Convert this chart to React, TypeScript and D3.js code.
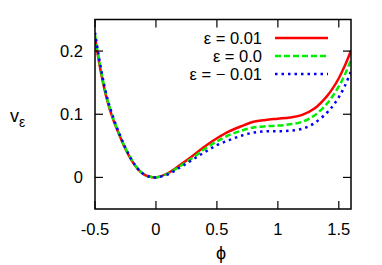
import React from "react";
import * as d3 from "d3";

const phi = [-0.5, -0.45, -0.4, -0.35, -0.3, -0.25, -0.2, -0.15, -0.1, -0.05, 0, 0.1, 0.2, 0.3, 0.4, 0.5, 0.6, 0.7, 0.8, 0.9, 1.0, 1.1, 1.2, 1.3, 1.4, 1.45, 1.5, 1.55, 1.6];
const vPlus = [0.221, 0.165, 0.122, 0.091, 0.067, 0.045, 0.027, 0.0135, 0.0048, 0.001, 0, 0.007, 0.020, 0.034, 0.049, 0.062, 0.073, 0.081, 0.088, 0.091, 0.093, 0.095, 0.099, 0.109, 0.128, 0.141, 0.157, 0.177, 0.201];
const vZero = [0.225, 0.168, 0.124, 0.093, 0.068, 0.046, 0.028, 0.014, 0.005, 0.001, 0, 0.006, 0.018, 0.031, 0.045, 0.057, 0.067, 0.074, 0.079, 0.081, 0.082, 0.084, 0.088, 0.098, 0.116, 0.129, 0.144, 0.163, 0.186];
const vMinus = [0.229, 0.171, 0.126, 0.095, 0.069, 0.047, 0.028, 0.014, 0.005, 0.001, 0, 0.005, 0.016, 0.028, 0.040, 0.051, 0.059, 0.066, 0.071, 0.073, 0.073, 0.074, 0.077, 0.086, 0.102, 0.113, 0.127, 0.145, 0.168];

const seriesLabels = ["ε = 0.01", "ε = 0.0", "ε = − 0.01"];
const xTicks = [-0.5, 0, 0.5, 1, 1.5];
const xTickLabels = ["-0.5", "0", "0.5", "1", "1.5"];
const yTicks = [0, 0.1, 0.2];
const yTickLabels = ["0", "0.1", "0.2"];

const W = 382, H = 265;
const L = 95, R = 351, T = 19.5, B = 209;
const FONT = "'Liberation Sans', Arial, sans-serif";

export default function App() {
  const x = d3.scaleLinear().domain([-0.5, 1.6]).range([L, R]);
  const y = d3.scaleLinear().domain([-0.05, 0.25]).range([B, T]);
  const line = d3
    .line<[number, number]>()
    .x((d) => x(d[0]))
    .y((d) => y(d[1]))
    .curve(d3.curveCatmullRom.alpha(0.5));

  const series = [
    { vals: vPlus, color: "#ff0000", dash: undefined as string | undefined },
    { vals: vZero, color: "#00ee00", dash: "6,3" },
    { vals: vMinus, color: "#0000ff", dash: "2.5,4" },
  ];
  const legendY = [38, 56, 74];
  const tick = 8;

  return (
    <svg
      width={W}
      height={H}
      style={{ position: "absolute", left: 0, top: 0, background: "#fff" }}
      fontFamily={FONT}
    >
      <defs>
        <clipPath id="plotclip">
          <rect x={L} y={T} width={R - L} height={B - T} />
        </clipPath>
      </defs>
      <g clipPath="url(#plotclip)">
        {series.map((s, i) => (
          <path
            key={i}
            d={line(phi.map((p, j) => [p, s.vals[j]] as [number, number])) || ""}
            fill="none"
            stroke={s.color}
            strokeWidth={2.5}
            strokeDasharray={s.dash}
          />
        ))}
      </g>
      {/* legend */}
      {series.map((s, i) => (
        <g key={"lg" + i}>
          <text x={262} y={legendY[i]} dy="0.35em" textAnchor="end" fontSize={16.5} fill="#000">
            {seriesLabels[i]}
          </text>
          <line
            x1={275}
            x2={328}
            y1={legendY[i]}
            y2={legendY[i]}
            stroke={s.color}
            strokeWidth={2.5}
            strokeDasharray={s.dash}
          />
        </g>
      ))}
      {/* frame */}
      <rect x={L} y={T} width={R - L} height={B - T} fill="none" stroke="#000" strokeWidth={1.5} />
      {xTicks.map((t, i) => (
        <g key={"xt" + i}>
          <line x1={x(t)} x2={x(t)} y1={B} y2={B - tick} stroke="#000" strokeWidth={1.2} />
          <line x1={x(t)} x2={x(t)} y1={T} y2={T + tick} stroke="#000" strokeWidth={1.2} />
          <text x={x(t)} y={229} dy="0.35em" textAnchor="middle" fontSize={16.5} fill="#000">
            {xTickLabels[i]}
          </text>
        </g>
      ))}
      {yTicks.map((t, i) => (
        <g key={"yt" + i}>
          <line x1={L} x2={L + tick} y1={y(t)} y2={y(t)} stroke="#000" strokeWidth={1.2} />
          <line x1={R} x2={R - tick} y1={y(t)} y2={y(t)} stroke="#000" strokeWidth={1.2} />
          <text x={83} y={y(t)} dy="0.35em" textAnchor="end" fontSize={16.5} fill="#000">
            {yTickLabels[i]}
          </text>
        </g>
      ))}
      <text x={221} y={253} dy="0.35em" textAnchor="middle" fontSize={18} fill="#000">
        ϕ
      </text>
      <text x={10} y={116} dy="0.35em" fontSize={18} fill="#000">
        v
        <tspan dy={5} fontSize={14}>ε</tspan>
      </text>
    </svg>
  );
}
